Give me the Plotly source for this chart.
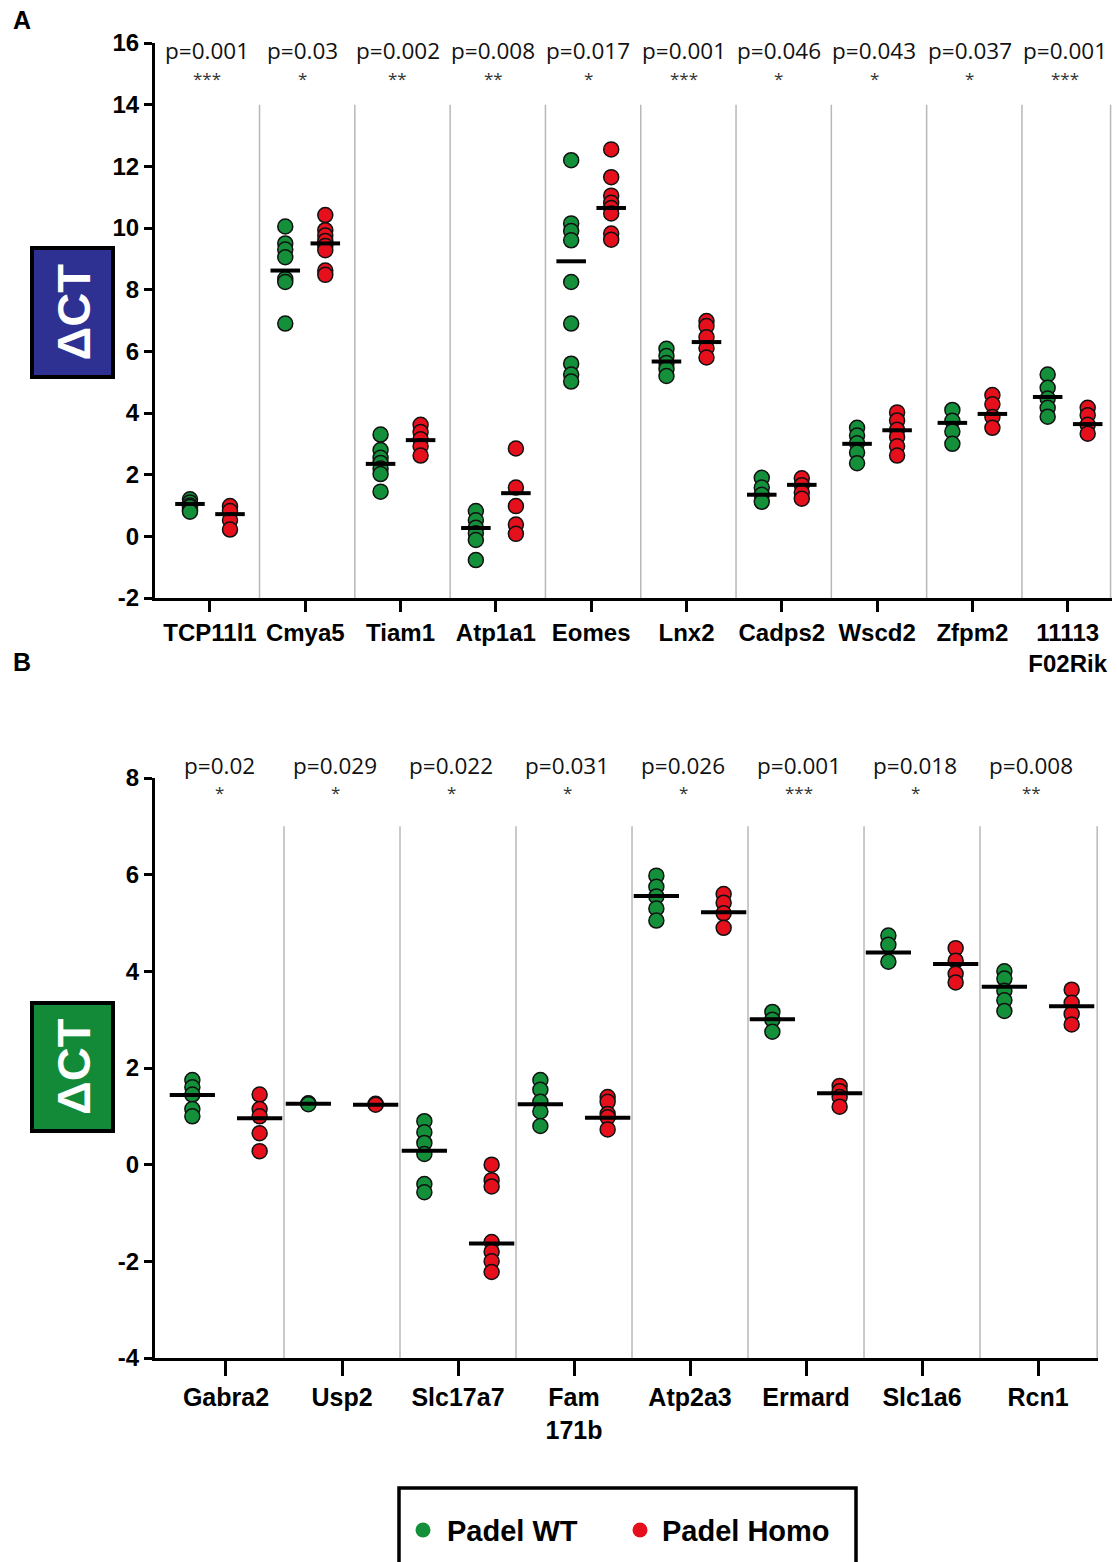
import plotly.graph_objects as go

# ---------------- Panel A data ----------------
genesA = ["TCP11l1", "Cmya5", "Tiam1", "Atp1a1", "Eomes", "Lnx2", "Cadps2", "Wscd2", "Zfpm2", "11113<br>F02Rik"]
pA = ["p=0.001", "p=0.03", "p=0.002", "p=0.008", "p=0.017", "p=0.001", "p=0.046", "p=0.043", "p=0.037", "p=0.001"]
starsA = ["***", "*", "**", "**", "*", "***", "*", "*", "*", "***"]
wtA = [
    [1.2, 1.1, 1.0, 0.95, 0.85, 0.8],
    [10.05, 9.5, 9.3, 9.05, 8.35, 8.25, 6.9],
    [3.3, 2.8, 2.55, 2.38, 2.2, 2.02, 1.45],
    [0.82, 0.52, 0.28, 0.1, -0.12, -0.77],
    [12.2, 10.15, 9.9, 9.6, 8.25, 6.9, 5.6, 5.25, 5.02],
    [6.08, 5.85, 5.62, 5.43, 5.2],
    [1.9, 1.58, 1.35, 1.12],
    [3.52, 3.27, 3.02, 2.72, 2.37],
    [4.1, 3.75, 3.4, 3.0],
    [5.25, 4.82, 4.47, 4.17, 3.88],
]
homoA = [
    [0.98, 0.82, 0.52, 0.22],
    [10.42, 9.93, 9.76, 9.58, 9.42, 9.28, 8.62, 8.48],
    [3.62, 3.38, 3.15, 2.92, 2.62],
    [2.85, 1.58, 0.98, 0.38, 0.08],
    [12.55, 11.65, 11.05, 10.82, 10.65, 10.47, 9.82, 9.62],
    [6.98, 6.82, 6.46, 6.1, 5.8],
    [1.88, 1.66, 1.42, 1.22],
    [4.02, 3.76, 3.46, 3.22, 2.92, 2.62],
    [4.58, 4.28, 3.87, 3.52],
    [4.17, 3.93, 3.62, 3.33],
]
meanWtA = [1.05, 8.62, 2.35, 0.27, 8.92, 5.67, 1.35, 3.0, 3.68, 4.52]
meanHomoA = [0.72, 9.5, 3.12, 1.4, 10.65, 6.3, 1.67, 3.44, 3.97, 3.64]

# ---------------- Panel B data ----------------
genesB = ["Gabra2", "Usp2", "Slc17a7", "Fam<br>171b", "Atp2a3", "Ermard", "Slc1a6", "Rcn1"]
pB = ["p=0.02", "p=0.029", "p=0.022", "p=0.031", "p=0.026", "p=0.001", "p=0.018", "p=0.008"]
starsB = ["*", "*", "*", "*", "*", "***", "*", "**"]
wtB = [
    [1.75, 1.6, 1.45, 1.15, 1.0],
    [1.27, 1.26, 1.25],
    [0.9, 0.67, 0.45, 0.22, -0.4, -0.57],
    [1.75, 1.55, 1.3, 1.1, 0.8],
    [5.98, 5.75, 5.55, 5.3, 5.05],
    [3.16, 3.0, 2.75],
    [4.74, 4.55, 4.2],
    [4.0, 3.85, 3.6, 3.4, 3.18],
]
homoB = [
    [1.45, 1.15, 1.0, 0.65, 0.28],
    [1.26, 1.24],
    [0.0, -0.32, -0.45, -1.6, -1.8, -2.0, -2.22],
    [1.4, 1.3, 1.05, 0.98, 0.73],
    [5.6, 5.42, 5.2, 4.9],
    [1.63, 1.52, 1.4, 1.2],
    [4.48, 4.22, 3.95, 3.77],
    [3.62, 3.35, 3.12, 2.9],
]
meanWtB = [1.44, 1.26, 0.29, 1.25, 5.56, 3.01, 4.39, 3.68]
meanHomoB = [0.96, 1.24, -1.63, 0.97, 5.22, 1.48, 4.15, 3.28]

GREEN = "#14903b"
RED = "#e5101c"
W, H = 1117, 1562


def px(x):
    return x / W


def py(y):
    return 1 - y / H


fig = go.Figure()


def add_panel(xa, ya, wt, homo, mwt, mhomo, off, hw, msize):
    for vals, sgn, col, name in [(wt, -1, GREEN, "Padel WT"), (homo, 1, RED, "Padel Homo")]:
        xs, ys = [], []
        for i, v in enumerate(vals):
            xs += [i + sgn * off] * len(v)
            ys += v
        fig.add_trace(go.Scatter(
            x=xs, y=ys, mode="markers", xaxis=xa, yaxis=ya, showlegend=False, name=name,
            marker=dict(size=msize, color=col, line=dict(color="#111", width=1.5)),
            cliponaxis=False))
    for m, sgn in [(mwt, -1), (mhomo, 1)]:
        lx, ly = [], []
        for i, v in enumerate(m):
            c = i + sgn * off
            lx += [c - hw, c + hw, None]
            ly += [v, v, None]
        fig.add_trace(go.Scatter(x=lx, y=ly, mode="lines", xaxis=xa, yaxis=ya, showlegend=False,
                                 line=dict(color="black", width=4), hoverinfo="skip"))


add_panel("x", "y", wtA, homoA, meanWtA, meanHomoA, 0.21, 0.155, 15)
add_panel("x2", "y2", wtB, homoB, meanWtB, meanHomoB, 0.29, 0.195, 15)

shapes = []
annotations = []

# separators
for i in range(len(genesA)):
    xv = i + 0.52 if i < len(genesA) - 1 else 9.45
    shapes.append(dict(type="line", xref="x", yref="y", x0=xv, x1=xv, y0=-2, y1=14,
                       line=dict(color="#b8b8b8", width=1.5), layer="below"))
for i in range(len(genesB)):
    xv = i + 0.5 if i < len(genesB) - 1 else 7.51
    shapes.append(dict(type="line", xref="x2", yref="y2", x0=xv, x1=xv, y0=-4, y1=7,
                       line=dict(color="#b8b8b8", width=1.5), layer="below"))

# p-values and stars
for i, (p, s) in enumerate(zip(pA, starsA)):
    annotations.append(dict(x=i - 0.03, y=py(50), xref="x", yref="paper", text=p, showarrow=False,
                            xanchor="center", yanchor="middle",
                            font=dict(family="Open Sans", size=22.5, color="#111")))
    annotations.append(dict(x=i - 0.03, y=py(78), xref="x", yref="paper", text=s, showarrow=False,
                            xanchor="center", yanchor="middle",
                            font=dict(family="Open Sans", size=17, color="#333")))
for i, (p, s) in enumerate(zip(pB, starsB)):
    annotations.append(dict(x=i - 0.06, y=py(765), xref="x2", yref="paper", text=p, showarrow=False,
                            xanchor="center", yanchor="middle",
                            font=dict(family="Open Sans", size=22.5, color="#111")))
    annotations.append(dict(x=i - 0.06, y=py(793), xref="x2", yref="paper", text=s, showarrow=False,
                            xanchor="center", yanchor="middle",
                            font=dict(family="Open Sans", size=17, color="#333")))

# ΔCT boxes
for (y0, y1, col) in [(248, 377, "#2e3192"), (1003, 1131, "#138a37")]:
    shapes.append(dict(type="rect", xref="paper", yref="paper", x0=px(32), x1=px(113),
                       y0=py(y1), y1=py(y0), fillcolor=col, line=dict(color="black", width=4)))
    annotations.append(dict(x=px(73), y=py((y0 + y1) / 2), xref="paper", yref="paper",
                            text="<b>ΔCT</b>", textangle=-90, showarrow=False,
                            xanchor="center", yanchor="middle",
                            font=dict(family="Liberation Sans", size=47, color="white")))

# panel letters
for letter, yy in [("A", 20), ("B", 662)]:
    annotations.append(dict(x=px(11), y=py(yy), xref="paper", yref="paper", text="<b>%s</b>" % letter,
                            xanchor="left", yanchor="middle", showarrow=False,
                            font=dict(family="Liberation Sans", size=25, color="black")))

# legend box
shapes.append(dict(type="rect", xref="paper", yref="paper", x0=px(399), x1=px(856), y0=py(1600), y1=py(1488),
                   line=dict(color="black", width=3.5), fillcolor="rgba(0,0,0,0)"))
for cx, col in [(423, GREEN), (640, RED)]:
    shapes.append(dict(type="circle", xref="paper", yref="paper", x0=px(cx - 7.5), x1=px(cx + 7.5),
                       y0=py(1537.5), y1=py(1522.5), fillcolor=col, line=dict(width=0)))
for tx, t in [(445, "Padel WT"), (660, "Padel Homo")]:
    annotations.append(dict(x=px(tx), y=py(1531), xref="paper", yref="paper", text="<b>%s</b>" % t,
                            xanchor="left", yanchor="middle", showarrow=False,
                            font=dict(family="Liberation Sans", size=29, color="black")))

axis_common = dict(showline=True, linewidth=3, linecolor="black", ticks="outside", tickwidth=3,
                   tickcolor="black", showgrid=False, zeroline=False, automargin=False)

fig.update_layout(
    template="none",
    width=W, height=H, autosize=False, margin=dict(l=0, r=0, t=0, b=0, pad=0),
    paper_bgcolor="white", plot_bgcolor="white", showlegend=False,
    xaxis=dict(domain=[px(155), px(1112)], range=[-0.577, 9.465], anchor="y",
               tickvals=list(range(len(genesA))), ticktext=["<b>%s</b>" % g for g in genesA], ticklen=11,
               tickfont=dict(family="Liberation Sans Narrow, Arial Narrow, Liberation Sans", size=24, color="black"),
               **axis_common),
    yaxis=dict(domain=[py(598), py(43)], range=[-2, 16], anchor="x", tickvals=list(range(-2, 17, 2)),
               ticktext=["<b>%d</b>" % v for v in range(-2, 17, 2)], ticklen=8,
               tickfont=dict(family="Liberation Sans", size=24, color="black"), **axis_common),
    xaxis2=dict(domain=[px(155), px(1098)], range=[-0.612, 7.517], anchor="y2",
                tickvals=list(range(len(genesB))), ticktext=["<b>%s</b>" % g for g in genesB], ticklen=15,
                tickfont=dict(family="Liberation Sans", size=25, color="black"), **axis_common),
    yaxis2=dict(domain=[py(1358), py(778)], range=[-4, 8], anchor="x2", tickvals=list(range(-4, 9, 2)),
                ticktext=["<b>%d</b>" % v for v in range(-4, 9, 2)], ticklen=8,
                tickfont=dict(family="Liberation Sans", size=24, color="black"), **axis_common),
    shapes=shapes, annotations=annotations,
)

fig.write_html("out.html")
